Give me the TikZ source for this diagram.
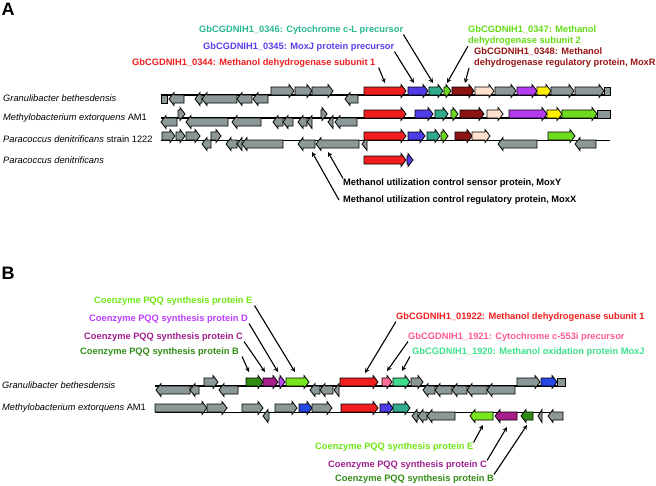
\documentclass[tikz,border=0pt]{standalone}
\usepackage{fontspec}
\setmainfont{Liberation Sans}

\definecolor{genegray}{RGB}{140,152,152}
\definecolor{mdhred}{RGB}{240,30,30}
\definecolor{moxjblue}{RGB}{80,60,230}
\definecolor{cytteal}{RGB}{50,170,140}
\definecolor{mdhgreen}{RGB}{110,220,30}
\definecolor{moxrred}{RGB}{140,20,20}
\definecolor{peach}{RGB}{255,225,205}
\definecolor{genepurple}{RGB}{180,60,240}
\definecolor{geneyellow}{RGB}{255,240,0}
\definecolor{pqqbgreen}{RGB}{50,140,20}
\definecolor{pqqcmag}{RGB}{170,30,140}
\definecolor{pqqdviolet}{RGB}{190,70,255}
\definecolor{pqqegreen}{RGB}{120,230,30}
\definecolor{cytpink}{RGB}{255,110,150}
\definecolor{moxjmint}{RGB}{60,220,140}
\definecolor{bblue}{RGB}{40,70,230}
% label colours
\definecolor{t0346}{RGB}{40,185,145}
\definecolor{t0345}{RGB}{90,60,235}
\definecolor{t0347}{RGB}{100,220,20}
\definecolor{t0348}{RGB}{150,20,20}
\definecolor{tpqqe}{RGB}{110,230,20}
\definecolor{tpqqd}{RGB}{190,60,255}
\definecolor{tpqqc}{RGB}{160,30,140}
\definecolor{tpink}{RGB}{255,90,140}
\definecolor{tmint}{RGB}{60,225,140}

\tikzstyle{gene} = [draw=black, line width=0.8pt]
\tikzstyle{track} = [line width=1.6pt]
\tikzstyle{thintrack} = [line width=0.9pt]
\tikzstyle{species} = [anchor=west, inner sep=0pt, font=\fontsize{9.3}{11}\selectfont\itshape]
\tikzstyle{genelabel} = [anchor=west, inner sep=0pt, align=left,
font=\fontsize{9.3}{11}\selectfont\bfseries]
\tikzstyle{panel} = [inner sep=0pt, font=\fontsize{18}{20}\selectfont\bfseries]

% forward gene: from, to, track y, colour
\newcommand{\fwd}[4]{%
  \pgfmathsetmacro{\headx}{max(#1,#2-5)}
  \filldraw[gene, fill=#4] (#1,#3) -- (\headx,#3) -- (\headx,#3+2.5) -- (#2,#3-4)
    -- (\headx,#3-10.5) -- (\headx,#3-8) -- (#1,#3-8) -- cycle;}
% reverse gene: tip, end, track y, colour
\newcommand{\rev}[4]{%
  \pgfmathsetmacro{\headx}{min(#2,#1+5)}
  \filldraw[gene, fill=#4] (#2,#3) -- (\headx,#3) -- (\headx,#3-2.5) -- (#1,#3+4)
    -- (\headx,#3+10.5) -- (\headx,#3+8) -- (#2,#3+8) -- cycle;}
% cut gene at the end of a track: from, to, top y
\newcommand{\stub}[3]{\filldraw[gene, fill=genegray] (#1,#3) rectangle (#2,#3+8);}

\begin{document}
\begin{tikzpicture}[x=1pt, y=-1pt]
  \useasboundingbox (0,0) rectangle (656,485);

  %%% panel A
  \node (pA) [panel] at (8,9) {A};
  \node (lbl0346) [genelabel, text=t0346] at (199,30) {GbCGDNIH1\_0346: Cytochrome c-L precursor};
  \node (lbl0345) [genelabel, text=t0345] at (203,47) {GbCGDNIH1\_0345: MoxJ protein precursor};
  \node (lbl0344) [genelabel, text=mdhred] at (132,63) {GbCGDNIH1\_0344: Methanol dehydrogenase subunit 1};
  \node (lbl0347) [genelabel, text=t0347] at (468,36) {GbCGDNIH1\_0347: Methanol\\dehydrogenase subunit 2};
  \node (lbl0348) [genelabel, text=t0348] at (474,58) {GbCGDNIH1\_0348: Methanol\\dehydrogenase regulatory protein, MoxR};
  \node (granA) [species] at (3,98) {Granulibacter bethesdensis};
  \node (methA) [species] at (3,118) {Methylobacterium extorquens \upshape AM1};
  \node (para1222) [species] at (3,139) {Paracoccus denitrificans \upshape strain 1222};
  \node (para) [species] at (3,160) {Paracoccus denitrificans};
  \node (moxY) [genelabel] at (343,183) {Methanol utilization control sensor protein, MoxY};
  \node (moxX) [genelabel] at (343,200) {Methanol utilization control regulatory protein, MoxX};

  % Granulibacter
  \draw [track] (161,95) -- (610,95);
  \stub{161}{167}{95}
  \rev{169}{184}{95}{genegray}
  \rev{195}{202}{95}{genegray}
  \rev{202}{237}{95}{genegray}
  \rev{237}{252}{95}{genegray}
  \rev{253}{268}{95}{genegray}
  \fwd{271}{294}{95}{genegray}
  \fwd{295}{312}{95}{genegray}
  \fwd{312}{333}{95}{genegray}
  \rev{345}{358}{95}{genegray}
  \fwd{364}{406}{95}{mdhred}
  \fwd{408}{428}{95}{moxjblue}
  \fwd{429}{443}{95}{cytteal}
  \fwd{444}{451}{95}{mdhgreen}
  \fwd{452}{474}{95}{moxrred}
  \fwd{475}{494}{95}{peach}
  \fwd{495}{516}{95}{genegray}
  \fwd{517}{537}{95}{genepurple}
  \fwd{537}{551}{95}{geneyellow}
  \fwd{551}{574}{95}{genegray}
  \fwd{575}{604}{95}{genegray}
  \stub{604}{610}{87}

  % Methylobacterium
  \draw [track] (161,118) -- (610,118);
  \rev{161}{177}{118}{genegray}
  \fwd{178}{185}{118}{genegray}
  \rev{186}{228}{118}{genegray}
  \rev{232}{261}{118}{genegray}
  \rev{273}{283}{118}{genegray}
  \rev{283}{293}{118}{genegray}
  \rev{298}{307}{118}{genegray}
  \rev{307}{312}{118}{genegray}
  \fwd{321}{327}{118}{genegray}
  \rev{328}{333}{118}{genegray}
  \rev{335}{357}{118}{genegray}
  \fwd{364}{406}{118}{mdhred}
  \fwd{415}{433}{118}{moxjblue}
  \fwd{435}{448}{118}{cytteal}
  \fwd{451}{458}{118}{mdhgreen}
  \fwd{460}{484}{118}{moxrred}
  \fwd{487}{503}{118}{peach}
  \fwd{509}{547}{118}{genepurple}
  \fwd{547}{562}{118}{geneyellow}
  \fwd{562}{597}{118}{mdhgreen}
  \stub{597}{610}{110}

  % Paracoccus strain 1222
  \draw [thintrack] (161,140) -- (610,140);
  \fwd{162}{175}{140}{genegray}
  \fwd{176}{185}{140}{genegray}
  \fwd{186}{200}{140}{genegray}
  \rev{202}{211}{140}{genegray}
  \fwd{211}{221}{140}{genegray}
  \rev{226}{237}{140}{genegray}
  \rev{237}{242}{140}{genegray}
  \rev{242}{283}{140}{genegray}
  \rev{298}{315}{140}{genegray}
  \rev{316}{359}{140}{genegray}
  \rev{362}{367}{140}{genegray}
  \fwd{364}{406}{140}{mdhred}
  \fwd{408}{425}{140}{moxjblue}
  \fwd{427}{440}{140}{cytteal}
  \fwd{441}{448}{140}{mdhgreen}
  \fwd{455}{472}{140}{moxrred}
  \fwd{472}{490}{140}{peach}
  \rev{498}{537}{140}{genegray}
  \fwd{548}{575}{140}{mdhgreen}
  \rev{575}{596}{140}{genegray}

  % Paracoccus
  \fwd{364}{406}{164}{mdhred}
  \fwd{407}{413}{164}{moxjblue}

  % arrow targets
  \coordinate (g0344) at (385,83);
  \coordinate (g0345) at (414,83);
  \coordinate (g0346) at (433,83);
  \coordinate (g0347) at (447,83);
  \coordinate (g0348) at (465,83);
  \coordinate (gmoxY) at (328,152);
  \coordinate (gmoxX) at (312,152);
  % connections
  \path [line width=1.1pt,->,>=stealth] (lbl0346.south east) edge (g0346);
  \path [line width=1.1pt,->,>=stealth] (lbl0345.south east) edge (g0345);
  \path [line width=1.1pt,->,>=stealth] ([xshift=3pt]lbl0344.south east) edge (g0344);
  \path [line width=1.1pt,->,>=stealth] (lbl0347.south west) edge (g0347);
  \path [line width=1.1pt,->,>=stealth] ([xshift=-5pt]lbl0348.south west) edge (g0348);
  \path [line width=1.1pt,->,>=stealth] (moxY.north west) edge (gmoxY);
  \path [line width=1.1pt,->,>=stealth] ([xshift=-4pt]moxX.west) edge (gmoxX);

  %%% panel B
  \node (pB) [panel] at (8,273) {B};
  \node (pqqEtop) [genelabel, text=tpqqe] at (94,301) {Coenzyme PQQ synthesis protein E};
  \node (pqqDtop) [genelabel, text=tpqqd] at (89,319) {Coenzyme PQQ synthesis protein D};
  \node (pqqCtop) [genelabel, text=tpqqc] at (84,337) {Coenzyme PQQ synthesis protein C};
  \node (pqqBtop) [genelabel, text=pqqbgreen] at (80,352) {Coenzyme PQQ synthesis protein B};
  \node (lbl01922) [genelabel, text=mdhred] at (396,317) {GbCGDNIH1\_01922: Methanol dehydrogenase subunit 1};
  \node (lbl1921) [genelabel, text=tpink] at (408,337) {GbCGDNIH1\_1921: Cytochrome c-553i precursor};
  \node (lbl1920) [genelabel, text=tmint] at (412,352) {GbCGDNIH1\_1920: Methanol oxidation protein MoxJ};
  \node (granB) [species] at (2,385) {Granulibacter bethesdensis};
  \node (methB) [species] at (2,408) {Methylobacterium extorquens \upshape AM1};
  \node (pqqEbot) [genelabel, text=tpqqe] at (315,447) {Coenzyme PQQ synthesis protein E};
  \node (pqqCbot) [genelabel, text=tpqqc] at (328,465) {Coenzyme PQQ synthesis protein C};
  \node (pqqBbot) [genelabel, text=pqqbgreen] at (335,479) {Coenzyme PQQ synthesis protein B};

  % Granulibacter
  \draw [track] (155,386) -- (565,386);
  \rev{156}{190}{386}{genegray}
  \rev{190}{199}{386}{genegray}
  \fwd{204}{218}{386}{genegray}
  \rev{219}{238}{386}{genegray}
  \fwd{246}{263}{386}{pqqbgreen}
  \fwd{263}{278}{386}{pqqcmag}
  \fwd{279}{285}{386}{pqqdviolet}
  \fwd{286}{309}{386}{pqqegreen}
  \rev{310}{320}{386}{genegray}
  \rev{320}{333}{386}{genegray}
  \rev{334}{339}{386}{genegray}
  \fwd{340}{378}{386}{mdhred}
  \fwd{382}{392}{386}{cytpink}
  \fwd{393}{410}{386}{moxjmint}
  \fwd{411}{423}{386}{genegray}
  \rev{423}{435}{386}{genegray}
  \rev{435}{452}{386}{genegray}
  \rev{452}{467}{386}{genegray}
  \rev{467}{487}{386}{genegray}
  \rev{487}{515}{386}{genegray}
  \fwd{517}{540}{386}{genegray}
  \fwd{541}{557}{386}{bblue}
  \stub{557}{565}{378}

  % Methylobacterium
  \draw [thintrack] (155,412) -- (563,412);
  \fwd{155}{207}{412}{genegray}
  \fwd{207}{227}{412}{genegray}
  \fwd{242}{263}{412}{genegray}
  \rev{263}{269}{412}{genegray}
  \fwd{275}{297}{412}{genegray}
  \fwd{299}{312}{412}{bblue}
  \fwd{312}{332}{412}{genegray}
  \fwd{341}{378}{412}{mdhred}
  \fwd{380}{393}{412}{moxjblue}
  \fwd{393}{410}{412}{cytteal}
  \rev{412}{418}{412}{genegray}
  \rev{418}{427}{412}{genegray}
  \rev{427}{455}{412}{genegray}
  \rev{470}{493}{412}{pqqegreen}
  \rev{495}{517}{412}{pqqcmag}
  \rev{521}{533}{412}{pqqbgreen}
  \rev{538}{542}{412}{genegray}
  \rev{548}{563}{412}{genegray}

  % arrow targets
  \coordinate (gpqqB) at (249,372);
  \coordinate (gpqqC) at (265,372);
  \coordinate (gpqqD) at (278,372);
  \coordinate (gpqqE) at (295,372);
  \coordinate (g01922) at (365,373);
  \coordinate (g1921) at (387,371);
  \coordinate (g1920) at (402,371);
  \coordinate (hpqqE) at (483,425);
  \coordinate (hpqqC) at (507,427);
  \coordinate (hpqqB) at (527,425);
  % connections
  \path [line width=1.1pt,->,>=stealth] ([xshift=2pt]pqqEtop.south east) edge (gpqqE);
  \path [line width=1.1pt,->,>=stealth] ([xshift=1pt]pqqDtop.south east) edge (gpqqD);
  \path [line width=1.1pt,->,>=stealth] ([xshift=1pt]pqqCtop.south east) edge (gpqqC);
  \path [line width=1.1pt,->,>=stealth] ([xshift=3pt]pqqBtop.south east) edge (gpqqB);
  \path [line width=1.1pt,->,>=stealth] (lbl01922.south west) edge (g01922);
  \path [line width=1.1pt,->,>=stealth] (lbl1921.south west) edge (g1921);
  \path [line width=1.1pt,->,>=stealth] ([xshift=-2pt]lbl1920.south west) edge (g1920);
  \path [line width=1.1pt,->,>=stealth] (pqqEbot.north east) edge (hpqqE);
  \path [line width=1.1pt,->,>=stealth] (pqqCbot.north east) edge (hpqqC);
  \path [line width=1.1pt,->,>=stealth] (pqqBbot.north east) edge (hpqqB);
\end{tikzpicture}
\end{document}
